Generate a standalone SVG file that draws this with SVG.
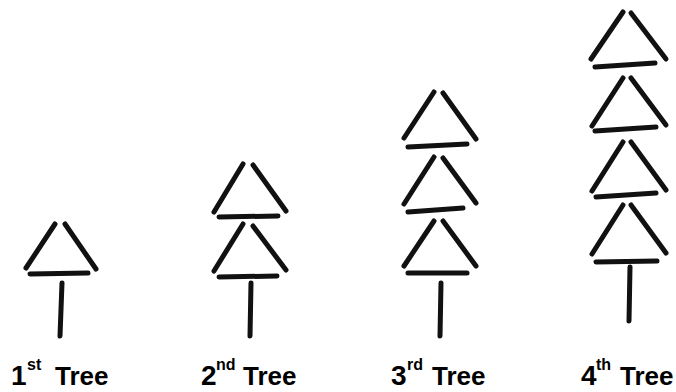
<svg xmlns="http://www.w3.org/2000/svg" width="676" height="392" viewBox="0 0 676 392">
<style>
.s{stroke:#111;stroke-width:5;stroke-linecap:round;fill:none}
.t{font-family:"Liberation Sans",Arial,sans-serif;font-weight:bold;font-size:26px;fill:#000}
.d{font-family:"Liberation Sans",Arial,sans-serif;font-weight:bold;font-size:28px;fill:#000}
.sup{font-family:"Liberation Sans",Arial,sans-serif;font-weight:bold;font-size:16px;fill:#000}
</style>
<rect width="676" height="392" fill="#fff"/>
<g id="tree1">
<line class="s" x1="55" y1="224" x2="26" y2="268"/>
<line class="s" x1="65" y1="224" x2="96" y2="269"/>
<line class="s" x1="30" y1="274" x2="88" y2="273"/>
<line class="s" x1="62" y1="283" x2="60" y2="336"/>
<text class="d" x="11" y="385">1</text><text class="sup" x="27" y="370">st</text><text class="t" x="55" y="385">Tree</text>
</g>
<g id="tree2">
<line class="s" x1="243" y1="164" x2="214" y2="212"/>
<line class="s" x1="253" y1="165" x2="286" y2="211"/>
<line class="s" x1="219" y1="217" x2="278" y2="216"/>
<line class="s" x1="243" y1="224" x2="214" y2="271"/>
<line class="s" x1="253" y1="226" x2="286" y2="270"/>
<line class="s" x1="219" y1="277" x2="277" y2="276"/>
<line class="s" x1="251" y1="283" x2="250" y2="336"/>
<text class="d" x="201" y="385">2</text><text class="sup" x="216" y="370">nd</text><text class="t" x="243" y="385">Tree</text>
</g>
<g id="tree3">
<line class="s" x1="434" y1="92" x2="404" y2="138"/>
<line class="s" x1="443" y1="93" x2="476" y2="139"/>
<line class="s" x1="408" y1="147" x2="467" y2="144"/>
<line class="s" x1="434" y1="157" x2="404" y2="204"/>
<line class="s" x1="443" y1="158" x2="476" y2="203"/>
<line class="s" x1="408" y1="212" x2="463" y2="208"/>
<line class="s" x1="434" y1="221" x2="404" y2="266"/>
<line class="s" x1="443" y1="221" x2="476" y2="266"/>
<line class="s" x1="408" y1="273" x2="467" y2="273"/>
<line class="s" x1="441" y1="283" x2="440" y2="336"/>
<text class="d" x="391" y="385">3</text><text class="sup" x="407" y="370">rd</text><text class="t" x="432" y="385">Tree</text>
</g>
<g id="tree4">
<line class="s" x1="623" y1="12" x2="591" y2="59"/>
<line class="s" x1="631" y1="13" x2="666" y2="59"/>
<line class="s" x1="595" y1="67" x2="655" y2="63"/>
<line class="s" x1="623" y1="78" x2="592" y2="126"/>
<line class="s" x1="631" y1="78" x2="666" y2="125"/>
<line class="s" x1="595" y1="131" x2="656" y2="127"/>
<line class="s" x1="623" y1="142" x2="592" y2="191"/>
<line class="s" x1="631" y1="142" x2="666" y2="190"/>
<line class="s" x1="596" y1="197" x2="656" y2="193"/>
<line class="s" x1="623" y1="205" x2="592" y2="254"/>
<line class="s" x1="631" y1="205" x2="666" y2="253"/>
<line class="s" x1="596" y1="262" x2="657" y2="261"/>
<line class="s" x1="630" y1="267" x2="629" y2="321"/>
<text class="d" x="581" y="385">4</text><text class="sup" x="596" y="370">th</text><text class="t" x="620" y="385">Tree</text>
</g>
</svg>
